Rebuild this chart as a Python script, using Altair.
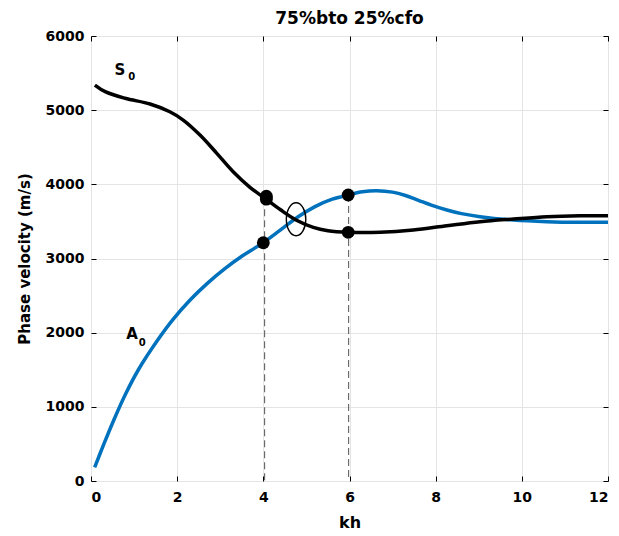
import altair as alt
import pandas as pd

FONT = "DejaVu Sans"

# ---------------- data ----------------
s0_kh = [0.09, 0.33, 0.79, 1.37, 1.83, 2.14, 2.53, 2.92, 3.30, 3.69, 4.04, 4.39,
         4.77, 5.16, 5.5, 5.97, 6.71, 7.48, 8.26, 9.03, 9.81, 10.58, 11.35, 12.0]
s0_v = [5339, 5249, 5160, 5083, 4979, 4867, 4665, 4418, 4170, 3960, 3810, 3660,
        3515, 3420, 3375, 3353, 3353, 3384, 3442, 3497, 3533, 3564, 3577, 3577]

a0_kh = [0.085, 0.3, 0.55, 0.8, 1.1, 1.5, 1.9, 2.3, 2.7, 3.1, 3.5, 3.8, 4.0,
         4.4, 4.8, 5.2, 5.6, 5.97, 6.3, 6.63, 7.0, 7.3, 7.6, 7.9, 8.26, 8.6,
         9.03, 9.81, 10.58, 11.35, 12.0]
a0_v = [184, 500, 850, 1170, 1500, 1860, 2175, 2440, 2665, 2860, 3030, 3140,
        3213, 3385, 3560, 3700, 3800, 3856, 3900, 3914, 3895, 3850, 3785, 3720,
        3654, 3605, 3564, 3519, 3497, 3488, 3488]

dot_kh = [4.07, 4.07, 4.0, 5.97, 5.97]
dot_v = [3840, 3800, 3213, 3856, 3353]

dash_kh = [4.03, 5.98]
dash_top = [3812, 3856]

ell_kh = [4.76]
ell_v = [3530]

lab_text = ["S", "A"]
lab_kh = [0.67, 0.95]
lab_v = [5542, 1982]
sub_text = ["0", "0"]
sub_kh = [0.945, 1.19]
sub_v = [5443, 1856]

x_ticks = [0, 2, 4, 6, 8, 10, 12]
y_ticks = [0, 1000, 2000, 3000, 4000, 5000, 6000]

# ---------------- frames ----------------
s0 = pd.DataFrame({"kh": s0_kh, "v": s0_v})
a0 = pd.DataFrame({"kh": a0_kh, "v": a0_v})
dots = pd.DataFrame({"kh": dot_kh, "v": dot_v})
dash = pd.DataFrame({"kh": dash_kh, "top": dash_top, "bottom": [0] * len(dash_kh)})
ell = pd.DataFrame({"kh": ell_kh, "v": ell_v})
labs = pd.DataFrame({"kh": lab_kh, "v": lab_v, "t": lab_text})
subs = pd.DataFrame({"kh": sub_kh, "v": sub_v, "t": sub_text})

xs = alt.Scale(domain=[0, 12], nice=False, zero=False)
ys = alt.Scale(domain=[0, 6000], nice=False)

lab_style = dict(labelFont=FONT, labelFontSize=14, labelFontWeight="bold",
                 labelColor="black", titleFont=FONT, titleFontWeight="bold",
                 titleColor="black", format="d")

x_main = alt.Axis(values=x_ticks, title="kh", grid=True, gridColor="#e4e4e4",
                  ticks=False, tickSize=0, domain=False, labelPadding=9,
                  titleFontSize=16, titlePadding=10, **lab_style)
y_main = alt.Axis(values=y_ticks, title="Phase velocity (m/s)", grid=True,
                  gridColor="#e4e4e4", ticks=False, tickSize=0, domain=False,
                  labelPadding=7, titleFontSize=15, titlePadding=13, **lab_style)


def tick_axis(orient, vals):
    return alt.Axis(orient=orient, values=vals, offset=-5, ticks=True, tickSize=5,
                    tickColor="black", tickWidth=1, labels=False, domain=False,
                    grid=False, title=None)


blue = alt.Chart(a0).mark_line(color="#0072BD", strokeWidth=3.5,
                               interpolate="catmull-rom").encode(
    x=alt.X("kh:Q", scale=xs, axis=x_main),
    y=alt.Y("v:Q", scale=ys, axis=y_main),
)

black = alt.Chart(s0).mark_line(color="black", strokeWidth=3.5,
                                interpolate="catmull-rom").encode(
    x=alt.X("kh:Q", scale=xs, axis=tick_axis("bottom", x_ticks)),
    y=alt.Y("v:Q", scale=ys, axis=tick_axis("left", y_ticks)),
)

dashed = alt.Chart(dash).mark_rule(color="#555555", strokeWidth=1,
                                   strokeDash=[7, 4]).encode(
    x=alt.X("kh:Q", scale=xs, axis=tick_axis("top", x_ticks)),
    y=alt.Y("top:Q", scale=ys, axis=tick_axis("right", y_ticks)),
    y2="bottom:Q",
)

pts = alt.Chart(dots).mark_point(filled=True, color="black", opacity=1,
                                 size=165).encode(
    x=alt.X("kh:Q", scale=xs, axis=None),
    y=alt.Y("v:Q", scale=ys, axis=None),
)

ellipse = alt.Chart(ell).mark_point(
    shape="M 0 -1 A 0.59 1 0 1 1 0 1 A 0.59 1 0 1 1 0 -1 Z",
    filled=False, color="black", strokeWidth=1.4, size=1089, opacity=1,
).encode(
    x=alt.X("kh:Q", scale=xs, axis=None),
    y=alt.Y("v:Q", scale=ys, axis=None),
)

letters = alt.Chart(labs).mark_text(font=FONT, fontSize=15, fontWeight="bold",
                                    color="black", align="center",
                                    baseline="middle").encode(
    x=alt.X("kh:Q", scale=xs, axis=None),
    y=alt.Y("v:Q", scale=ys, axis=None),
    text="t:N",
)

subscripts = alt.Chart(subs).mark_text(font=FONT, fontSize=10, fontWeight="bold",
                                       color="black", align="center",
                                       baseline="middle").encode(
    x=alt.X("kh:Q", scale=xs, axis=None),
    y=alt.Y("v:Q", scale=ys, axis=None),
    text="t:N",
)

chart = alt.layer(
    blue, black, dashed, pts, ellipse, letters, subscripts
).resolve_axis(
    x="independent", y="independent"
).properties(
    width=517,
    height=445,
    padding={"left": 83, "top": 28, "right": 2, "bottom": 52},
    autosize=alt.AutoSizeParams(type="none"),
    title=alt.TitleParams("75%bto 25%cfo", font=FONT, fontSize=17,
                          fontWeight="bold", color="black", anchor="middle",
                          offset=1),
).configure_view(
    stroke="black", strokeWidth=1
).configure(background="white")

chart.save("out.html", embed_options={"renderer": "svg", "actions": False})
